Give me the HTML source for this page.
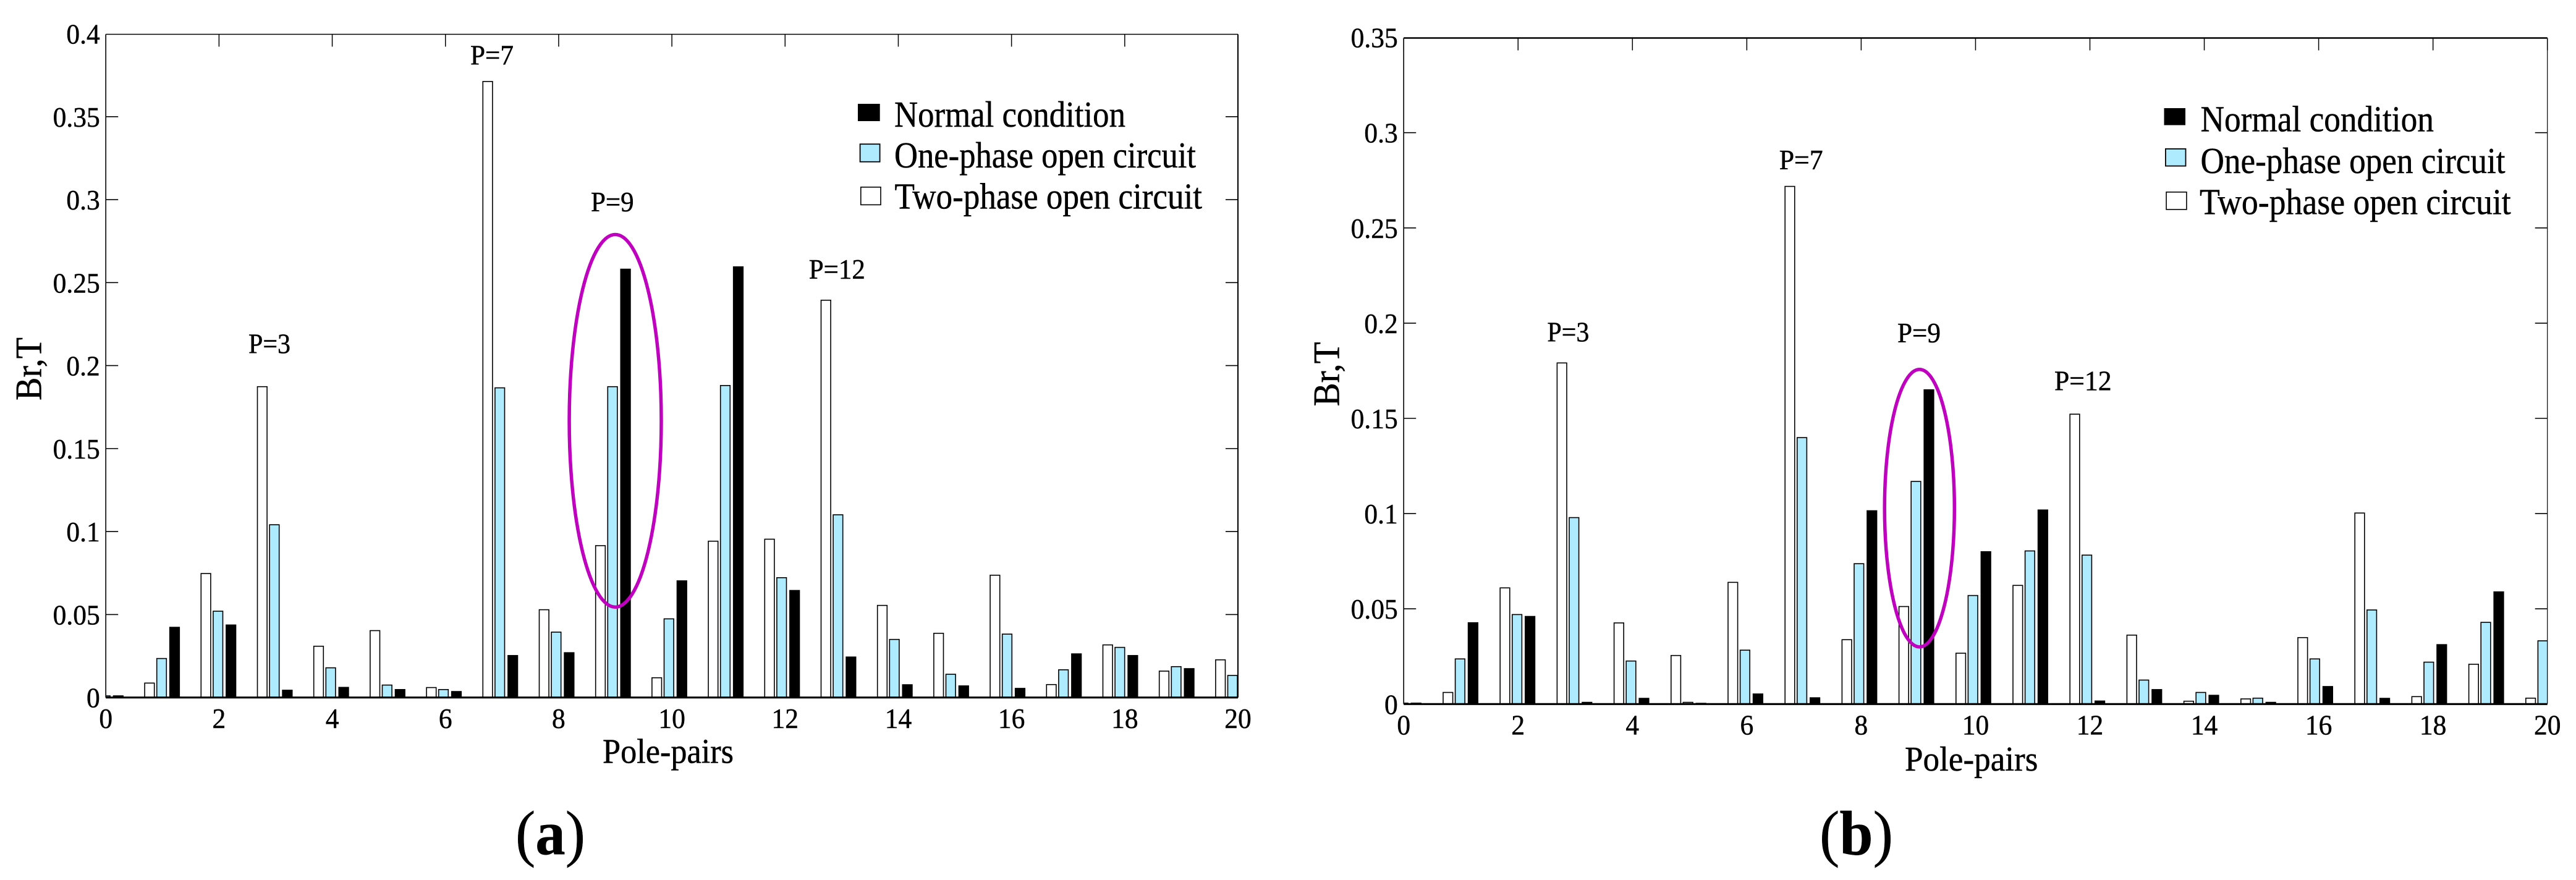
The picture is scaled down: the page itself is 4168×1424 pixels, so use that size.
<!DOCTYPE html>
<html lang="en">
<head>
<meta charset="utf-8">
<title>Br harmonic spectrum by pole-pairs</title>
<style>
html,body{margin:0;padding:0;background:#fff;}
svg{display:block;}
text{font-family:"Liberation Serif","Times New Roman",serif;fill:#000;stroke:#000;stroke-width:0.5px;}
</style>
</head>
<body>
<svg id="figure" xmlns="http://www.w3.org/2000/svg" width="4168" height="1424" viewBox="0 0 4168 1424">
  <rect x="0" y="0" width="4168" height="1424" fill="#fff"/>

  <g id="panel-a"></g>
  <g id="panel-b"></g>

  <!-- Panel A static text -->
  <g font-size="45">
    <text x="402" y="571.6" textLength="68" lengthAdjust="spacingAndGlyphs">P=3</text>
    <text x="761" y="104.7" textLength="70" lengthAdjust="spacingAndGlyphs">P=7</text>
    <text x="956" y="342" textLength="69.6" lengthAdjust="spacingAndGlyphs">P=9</text>
    <text x="1308.7" y="450.9" textLength="91.2" lengthAdjust="spacingAndGlyphs">P=12</text>
  </g>
  <g font-size="59">
    <rect x="1388" y="168" width="35.7" height="28" fill="#000"/>
    <text x="1447" y="205" textLength="374" lengthAdjust="spacingAndGlyphs">Normal condition</text>
    <rect x="1391.6" y="233.2" width="32" height="28.6" fill="#aeebff" stroke="#000" stroke-width="1.8"/>
    <text x="1447" y="271" textLength="488" lengthAdjust="spacingAndGlyphs">One-phase open circuit</text>
    <rect x="1392.8" y="302.8" width="32.2" height="28.6" fill="#fff" stroke="#000" stroke-width="1.6"/>
    <text x="1447.5" y="337.5" textLength="497.5" lengthAdjust="spacingAndGlyphs">Two-phase open circuit</text>
  </g>
  <text x="975" y="1234.3" font-size="56" textLength="212" lengthAdjust="spacingAndGlyphs">Pole-pairs</text>
  <text x="66.6" y="648" font-size="60" textLength="102" lengthAdjust="spacingAndGlyphs" transform="rotate(-90 66.6 648)">Br,T</text>
  <text x="834" y="1382.6" font-size="102" textLength="113" lengthAdjust="spacingAndGlyphs">(<tspan font-weight="bold">a</tspan>)</text>

  <!-- Panel B static text -->
  <g font-size="45">
    <text x="2503.4" y="552.3" textLength="68" lengthAdjust="spacingAndGlyphs">P=3</text>
    <text x="2878.7" y="274" textLength="71" lengthAdjust="spacingAndGlyphs">P=7</text>
    <text x="3070" y="554" textLength="70" lengthAdjust="spacingAndGlyphs">P=9</text>
    <text x="3324" y="631.3" textLength="92.6" lengthAdjust="spacingAndGlyphs">P=12</text>
  </g>
  <g font-size="59">
    <rect x="3501.5" y="175" width="34.5" height="27.5" fill="#000"/>
    <text x="3560.5" y="212.6" textLength="377.4" lengthAdjust="spacingAndGlyphs">Normal condition</text>
    <rect x="3503.9" y="240.9" width="32.6" height="27.7" fill="#aeebff" stroke="#000" stroke-width="1.8"/>
    <text x="3560.5" y="280" textLength="493" lengthAdjust="spacingAndGlyphs">One-phase open circuit</text>
    <rect x="3505.1" y="310.8" width="32.8" height="28.2" fill="#fff" stroke="#000" stroke-width="1.6"/>
    <text x="3559" y="346.6" textLength="503.7" lengthAdjust="spacingAndGlyphs">Two-phase open circuit</text>
  </g>
  <text x="3082" y="1247" font-size="56" textLength="215.4" lengthAdjust="spacingAndGlyphs">Pole-pairs</text>
  <text x="2166.6" y="657.5" font-size="60" textLength="104" lengthAdjust="spacingAndGlyphs" transform="rotate(-90 2166.6 657.5)">Br,T</text>
  <text x="2944" y="1382.6" font-size="102" textLength="119" lengthAdjust="spacingAndGlyphs">(<tspan font-weight="bold">b</tspan>)</text>
</svg>

<script>
// ---- chart data ----
const poles = [0,1,2,3,4,5,6,7,8,9,10,11,12,13,14,15,16,17,18,19,20];

const twoPhaseA = [0,0.0087,0.0747,0.1873,0.0309,0.0403,0.006,0.3712,0.0529,0.0915,0.0119,0.0942,0.0954,0.2394,0.0555,0.0387,0.0737,0.0078,0.0317,0.0159,0.0227];
const onePhaseA = [0.001,0.0235,0.052,0.1041,0.0179,0.0075,0.0048,0.1866,0.0394,0.1873,0.0474,0.188,0.0722,0.1101,0.035,0.014,0.0382,0.0167,0.0302,0.0186,0.0133];
const normalA   = [0.001,0.0423,0.0437,0.0044,0.0061,0.0048,0.0036,0.0253,0.027,0.2581,0.0703,0.2595,0.0645,0.0244,0.0077,0.007,0.0055,0.0263,0.0253,0.0174,0];

const twoPhaseB = [0,0.0061,0.061,0.1791,0.0426,0.0255,0.0639,0.2718,0.0338,0.0512,0.0267,0.0623,0.1522,0.0362,0.0015,0.0027,0.0349,0.1003,0.0039,0.0209,0.0031];
const onePhaseB = [0.0005,0.0237,0.047,0.0979,0.0226,0.0009,0.0283,0.1399,0.0737,0.1169,0.057,0.0804,0.0782,0.0126,0.0061,0.0031,0.0237,0.0494,0.022,0.0429,0.0332];
const normalB   = [0.0005,0.0427,0.046,0.0009,0.003,0.0004,0.0053,0.0033,0.1015,0.165,0.08,0.1019,0.0016,0.0076,0.0046,0.0009,0.0092,0.003,0.0312,0.0589,0];

const xTickLabels = ["0","2","4","6","8","10","12","14","16","18","20"];
const yTickLabelsA = ["0","0.05","0.1","0.15","0.2","0.25","0.3","0.35","0.4"];
const yTickLabelsB = ["0","0.05","0.1","0.15","0.2","0.25","0.3","0.35"];

// highlighted-harmonic ellipse, in data units: pole, half width, top value, bottom value
const ellipseA = [9, 0.813, 0.279, 0.0545];
const ellipseB = [9.02, 0.611, 0.1757, 0.03];

// ---- drawing ----
const NS = 'http://www.w3.org/2000/svg';

function make(tag, parent, name) {
  const el = document.createElementNS(NS, tag);
  
  
  parent.appendChild(el);
  return el;
}

function labelWidth(s) {
  let w = 0;
  for (const ch of s) { w += ch === '.' ? 11.5 : 23; }
  return w * 0.945;
}

function drawPanel(id, cfg) {
  const root = document.getElementById(id);
  const tag = cfg.tag;
  const xScale = v => cfg.left + (v / 20) * (cfg.right - cfg.left);
  const yScale = v => cfg.zero - (v / cfg.yMax) * (cfg.zero - cfg.top);
  // bars are spaced slightly tighter than the tick marks in the original plot
  const barCenter = p => cfg.barOrigin + p * cfg.barStep;

  const clipId = 'clip-' + tag;
  const defs = make('defs', root, 'plot-clip-defs-' + tag);
  const clip = make('clipPath', defs, 'plot-clip-' + tag);
  clip.setAttribute('id', clipId);
  const clipRect = make('rect', clip, 'plot-clip-rect-' + tag);
  clipRect.setAttribute('x', cfg.left);
  clipRect.setAttribute('y', cfg.frameTop);
  clipRect.setAttribute('width', cfg.right - cfg.left);
  clipRect.setAttribute('height', cfg.zero - cfg.frameTop);

  const barsGroup = make('g', root, 'bars-' + tag);
  barsGroup.setAttribute('clip-path', 'url(#' + clipId + ')');

  const series = [
    { name: 'two-phase', values: cfg.two, offset: -19.6, fill: '#fff' },
    { name: 'one-phase', values: cfg.one, offset: 0, fill: '#aeebff' },
    { name: 'normal', values: cfg.normal, offset: 21, fill: '#000' }
  ];
  series.forEach(s => {
    poles.forEach((p, i) => {
      const v = s.values[i];
      if (!v) return;
      const y = yScale(v);
      const r = make('rect', barsGroup, 'bar-' + tag + '-' + s.name + '-p' + p);
      r.setAttribute('x', barCenter(p) + s.offset - 7.8);
      r.setAttribute('y', y);
      r.setAttribute('width', 15.6);
      r.setAttribute('height', Math.max(cfg.zero - y, 0));
      r.setAttribute('fill', s.fill);
      r.setAttribute('stroke', '#000');
      r.setAttribute('stroke-width', 1.6);
    });
  });

  // frame
  const edges = [
    ['frame-left-' + tag, cfg.left, cfg.frameTop, cfg.left, cfg.zero, 1.6],
    ['frame-right-' + tag, cfg.right, cfg.frameTop, cfg.right, cfg.zero, cfg.rightW],
    ['frame-top-' + tag, cfg.left, cfg.frameTop, cfg.right, cfg.frameTop, cfg.topW],
    ['frame-bottom-' + tag, cfg.left, cfg.zero, cfg.right, cfg.zero, 3.2]
  ];
  edges.forEach(e => {
    const l = make('line', root, e[0]);
    l.setAttribute('x1', e[1]);
    l.setAttribute('y1', e[2]);
    l.setAttribute('x2', e[3]);
    l.setAttribute('y2', e[4]);
    l.setAttribute('stroke', '#000');
    l.setAttribute('stroke-width', e[5]);
  });

  // x ticks
  xTickLabels.forEach(label => {
    const v = Number(label);
    const x = xScale(v);
    const top = make('line', root, 'x-tick-top-' + tag + '-' + label);
    top.setAttribute('x1', x);
    top.setAttribute('x2', x);
    top.setAttribute('y1', cfg.frameTop);
    top.setAttribute('y2', cfg.frameTop + 20);
    top.setAttribute('stroke', '#000');
    top.setAttribute('stroke-width', 1.5);
    const t = make('text', root, 'x-tick-label-' + tag + '-' + label);
    t.setAttribute('x', x);
    t.setAttribute('y', cfg.xLabelY);
    t.setAttribute('font-size', 46);
    t.setAttribute('text-anchor', 'middle');
    t.setAttribute('textLength', labelWidth(label));
    t.setAttribute('lengthAdjust', 'spacingAndGlyphs');
    t.textContent = label;
  });

  // y ticks
  cfg.yLabels.forEach(label => {
    const v = Number(label);
    const y = yScale(v);
    if (v > 0 && v < cfg.yMax) {
      const l1 = make('line', root, 'y-tick-left-' + tag + '-' + label);
      l1.setAttribute('x1', cfg.left);
      l1.setAttribute('x2', cfg.left + 20);
      l1.setAttribute('y1', y);
      l1.setAttribute('y2', y);
      l1.setAttribute('stroke', '#000');
      l1.setAttribute('stroke-width', 1.6);
      const l2 = make('line', root, 'y-tick-right-' + tag + '-' + label);
      l2.setAttribute('x1', cfg.right - 20);
      l2.setAttribute('x2', cfg.right);
      l2.setAttribute('y1', y);
      l2.setAttribute('y2', y);
      l2.setAttribute('stroke', '#000');
      l2.setAttribute('stroke-width', 1.6);
    }
    const t = make('text', root, 'y-tick-label-' + tag + '-' + label);
    t.setAttribute('x', cfg.left - 9.5);
    t.setAttribute('y', y + 16);
    t.setAttribute('font-size', 46);
    t.setAttribute('text-anchor', 'end');
    t.setAttribute('textLength', labelWidth(label));
    t.setAttribute('lengthAdjust', 'spacingAndGlyphs');
    t.textContent = label;
  });

  // ellipse highlight
  const eVals = cfg.ellipse;
  const ell = make('ellipse', root, 'highlight-ellipse-' + tag);
  const yA = yScale(eVals[2]);
  const yB = yScale(eVals[3]);
  ell.setAttribute('cx', xScale(eVals[0]));
  ell.setAttribute('cy', (yA + yB) / 2);
  ell.setAttribute('rx', eVals[1] * (cfg.right - cfg.left) / 20);
  ell.setAttribute('ry', (yB - yA) / 2);
  ell.setAttribute('fill', 'none');
  ell.setAttribute('stroke', '#bf00bf');
  ell.setAttribute('stroke-width', 5.5);
}

drawPanel('panel-a', {
  tag: 'a', left: 171.2, right: 2003, zero: 1128.7, top: 54.5, frameTop: 55.5, yMax: 0.4,
  barOrigin: 170.3, barStep: 91.2, xLabelY: 1177.8, rightW: 2, topW: 1.6,
  two: twoPhaseA, one: onePhaseA, normal: normalA, yLabels: yTickLabelsA, ellipse: ellipseA
});
drawPanel('panel-b', {
  tag: 'b', left: 2271.2, right: 4121.7, zero: 1139.3, top: 60.6, frameTop: 61.5, yMax: 0.35,
  barOrigin: 2270.2, barStep: 92.2, xLabelY: 1188.4, rightW: 1.2, topW: 2.6,
  two: twoPhaseB, one: onePhaseB, normal: normalB, yLabels: yTickLabelsB, ellipse: ellipseB
});
</script>
</body>
</html>
